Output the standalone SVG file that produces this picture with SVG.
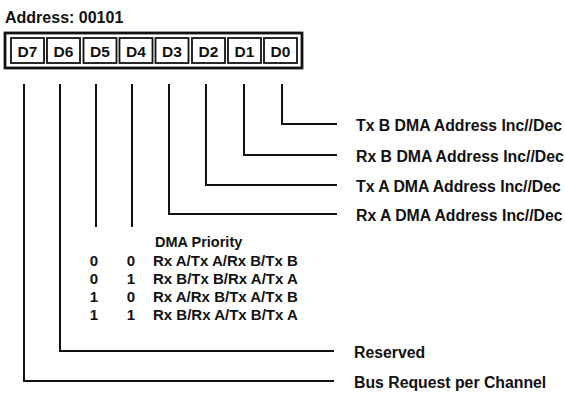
<svg xmlns="http://www.w3.org/2000/svg" width="565" height="397" viewBox="0 0 565 397">
<style>
text{font-family:"Liberation Sans",Arial,sans-serif;font-weight:bold;fill:#111}
.lbl{font-size:15.8px}
.cell{fill:#fff;stroke:#111;stroke-width:1.8}
.frame{fill:#fff;stroke:#111;stroke-width:2.8}
.conn path{fill:none;stroke:#111;stroke-width:2}
.ct{font-size:15.5px;text-anchor:middle}
.tb{font-size:15px}
.d{text-anchor:middle}
</style>
<rect width="565" height="397" fill="#fff"/>
<text x="5" y="23" style="font-size:16px">Address: 00101</text>
<g id="register">
<rect class="frame" x="5" y="33" width="297" height="35"/>
<g id="D7"><rect class="cell" x="11" y="38" width="33" height="25"/><text class="ct" x="27.5" y="56.5">D7</text></g>
<g id="D6"><rect class="cell" x="47" y="38" width="33" height="25"/><text class="ct" x="63.5" y="56.5">D6</text></g>
<g id="D5"><rect class="cell" x="83.5" y="38" width="33" height="25"/><text class="ct" x="100" y="56.5">D5</text></g>
<g id="D4"><rect class="cell" x="119.5" y="38" width="33" height="25"/><text class="ct" x="136" y="56.5">D4</text></g>
<g id="D3"><rect class="cell" x="155.5" y="38" width="33" height="25"/><text class="ct" x="172" y="56.5">D3</text></g>
<g id="D2"><rect class="cell" x="192" y="38" width="33" height="25"/><text class="ct" x="208.5" y="56.5">D2</text></g>
<g id="D1"><rect class="cell" x="228" y="38" width="33" height="25"/><text class="ct" x="244.5" y="56.5">D1</text></g>
<g id="D0"><rect class="cell" x="264" y="38" width="33" height="25"/><text class="ct" x="280.5" y="56.5">D0</text></g>
</g>
<g id="connectors" class="conn">
<path d="M282 84V124H337"/>
<path d="M244 84V155H337"/>
<path d="M206 84V185H337"/>
<path d="M169 84V214H337"/>
<path d="M96 84V227"/>
<path d="M132 84V227"/>
<path d="M60 84V351H334"/>
<path d="M24 84V381H334"/>
</g>
<g id="labels">
<text class="lbl" x="356" y="131">Tx B DMA Address Inc//Dec</text>
<text class="lbl" x="356" y="162">Rx B DMA Address Inc//Dec</text>
<text class="lbl" x="356" y="192">Tx A DMA Address Inc//Dec</text>
<text class="lbl" x="356" y="221">Rx A DMA Address Inc//Dec</text>
<text class="lbl" x="354" y="358">Reserved</text>
<text class="lbl" x="354" y="388">Bus Request per Channel</text>
</g>
<g id="priority-table">
<text class="tb" x="155" y="247" style="font-size:14.5px">DMA Priority</text>
<text class="tb d" x="94" y="266">0</text><text class="tb d" x="131" y="266">0</text><text class="tb" x="153" y="266">Rx A/Tx A/Rx B/Tx B</text>
<text class="tb d" x="94" y="284">0</text><text class="tb d" x="131" y="284">1</text><text class="tb" x="153" y="284">Rx B/Tx B/Rx A/Tx A</text>
<text class="tb d" x="94" y="302">1</text><text class="tb d" x="131" y="302">0</text><text class="tb" x="153" y="302">Rx A/Rx B/Tx A/Tx B</text>
<text class="tb d" x="94" y="320">1</text><text class="tb d" x="131" y="320">1</text><text class="tb" x="153" y="320">Rx B/Rx A/Tx B/Tx A</text>
</g>
</svg>
